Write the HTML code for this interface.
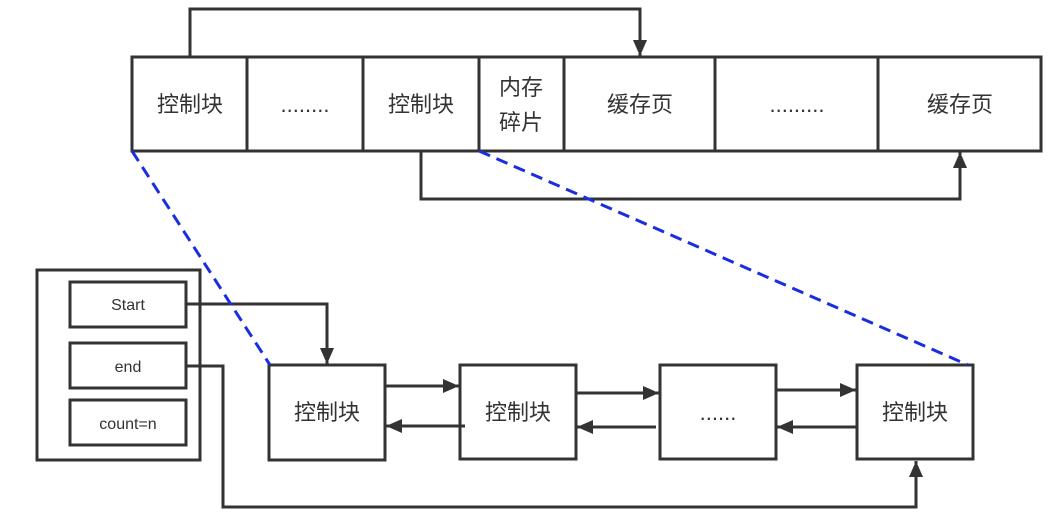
<!DOCTYPE html>
<html><head><meta charset="utf-8"><style>
body{margin:0;background:#fff;}
svg text{font-family:"Liberation Sans","Noto Sans CJK SC",sans-serif;fill:#333;}
</style></head><body>
<svg width="1058" height="523" viewBox="0 0 1058 523" xmlns="http://www.w3.org/2000/svg">
<defs><marker id="a" markerWidth="10" markerHeight="10" refX="9" refY="5" orient="auto" markerUnits="userSpaceOnUse"><path d="M0,0 L10,5 L0,10 z" fill="#333"/></marker>
<marker id="b" markerWidth="12" markerHeight="14" refX="16" refY="7" orient="auto" markerUnits="userSpaceOnUse"><path d="M0,0 L16,7 L0,14 z" fill="#333"/></marker></defs>
<g stroke="#333" stroke-width="3" fill="none">
<rect x="132" y="57" width="909" height="94"/>
<line x1="247" y1="57" x2="247" y2="151"/><line x1="363" y1="57" x2="363" y2="151"/>
<line x1="479" y1="57" x2="479" y2="151"/><line x1="564" y1="57" x2="564" y2="151"/>
<line x1="715" y1="57" x2="715" y2="151"/><line x1="878" y1="57" x2="878" y2="151"/>
<polyline points="190,57 190,9 640,9 640,56" marker-end="url(#b)"/>
<polyline points="421,151 421,199 960,199 960,152" marker-end="url(#b)"/>
<rect x="37" y="270" width="163" height="190"/>
<rect x="70" y="282" width="116" height="45"/>
<rect x="70" y="343" width="116" height="45"/>
<rect x="70" y="400" width="116" height="45"/>
<rect x="269" y="365" width="116" height="95"/>
<rect x="460" y="365" width="116" height="94"/>
<rect x="660" y="365" width="116" height="94"/>
<rect x="857" y="365" width="116" height="94"/>
<polyline points="186,304 327,304 327,364" marker-end="url(#b)"/>
<polyline points="186,366 223,366 223,507 916,507 916,461" marker-end="url(#b)"/>
<line x1="385" y1="386" x2="459" y2="386" marker-end="url(#b)"/>
<line x1="465" y1="426" x2="386" y2="426" marker-end="url(#b)"/>
<line x1="576" y1="393" x2="659" y2="393" marker-end="url(#b)"/>
<line x1="656" y1="427" x2="577" y2="427" marker-end="url(#b)"/>
<line x1="776" y1="390" x2="856" y2="390" marker-end="url(#b)"/>
<line x1="857" y1="427" x2="777" y2="427" marker-end="url(#b)"/>
</g>
<g stroke="#1a2ee0" stroke-width="3" stroke-dasharray="12,7" fill="none">
<line x1="132" y1="151" x2="270" y2="365"/>
<line x1="479" y1="151" x2="968" y2="365"/>
</g>
<g font-size="22" text-anchor="middle">
<text x="190" y="112">控制块</text>
<text x="305" y="112">........</text>
<text x="421" y="112">控制块</text>
<text x="521" y="95">内存</text>
<text x="521" y="130">碎片</text>
<text x="640" y="112">缓存页</text>
<text x="797" y="112">.........</text>
<text x="960" y="112">缓存页</text>
<text x="327" y="420">控制块</text>
<text x="518" y="420">控制块</text>
<text x="718" y="420">......</text>
<text x="915" y="420">控制块</text>
</g>
<g font-size="16" text-anchor="middle">
<text x="128" y="310">Start</text>
<text x="128" y="372">end</text>
<text x="128" y="429">count=n</text>
</g>
</svg>
</body></html>
